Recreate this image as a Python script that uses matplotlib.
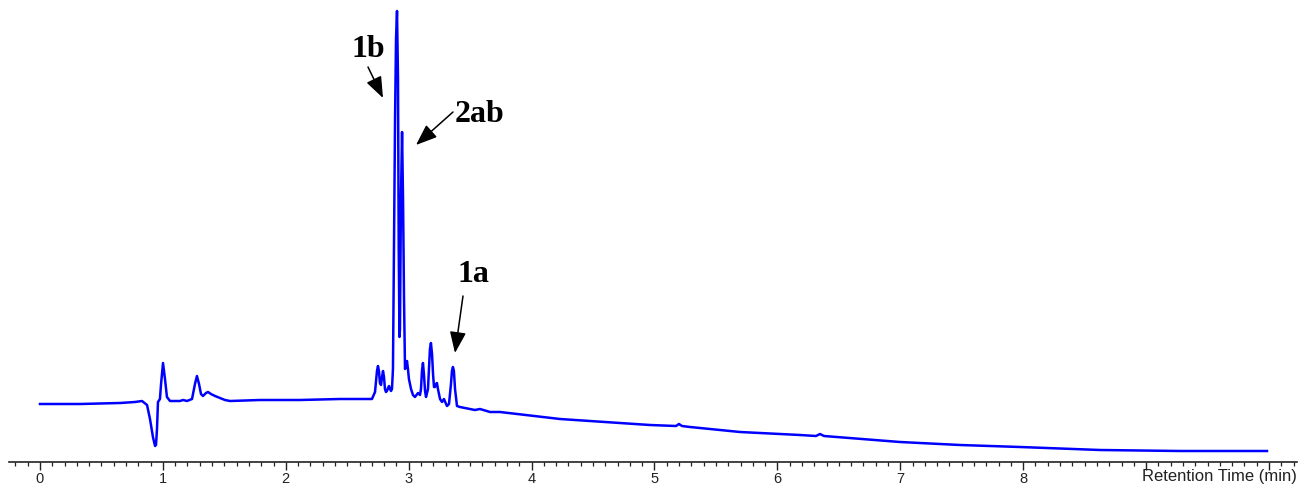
import matplotlib
matplotlib.use("Agg")
import matplotlib.pyplot as plt
from matplotlib.ticker import MultipleLocator, FixedLocator

# Retention time (min) and detector signal (arbitrary units)
rt = [0.000, 0.325, 0.651, 0.773, 0.830, 0.871, 0.895, 0.919, 0.936, 0.944, 0.952, 0.960,
      0.976, 0.985, 1.001, 1.017, 1.033, 1.058, 1.139, 1.164, 1.196, 1.237, 1.261, 1.277,
      1.294, 1.310, 1.326, 1.351, 1.367, 1.391, 1.424, 1.465, 1.505, 1.546, 1.790, 2.116,
      2.441, 2.701, 2.726, 2.742, 2.750, 2.758, 2.766, 2.775, 2.783, 2.791, 2.799, 2.807,
      2.815, 2.823, 2.832, 2.840, 2.848, 2.856, 2.864, 2.872, 2.880, 2.889, 2.897, 2.905,
      2.913, 2.919, 2.925, 2.929, 2.937, 2.946, 2.954, 2.962, 2.970, 2.978, 2.986, 2.994,
      3.002, 3.019, 3.035, 3.051, 3.076, 3.092, 3.100, 3.108, 3.116, 3.124, 3.133, 3.141,
      3.157, 3.165, 3.173, 3.181, 3.190, 3.198, 3.206, 3.214, 3.222, 3.230, 3.238, 3.255,
      3.271, 3.287, 3.304, 3.312, 3.328, 3.344, 3.352, 3.360, 3.368, 3.377, 3.393, 3.417,
      3.458, 3.499, 3.539, 3.580, 3.662, 3.743, 4.231, 4.963, 5.175, 5.199, 5.224, 5.289,
      5.696, 6.184, 6.314, 6.347, 6.379, 6.998, 7.486, 7.974, 8.625, 9.276, 9.984]
signal = [58, 58, 59, 60, 61, 57, 43, 25, 16, 17, 33, 60,
          63, 78, 99, 83, 65, 61, 61, 62, 61, 63, 78, 86,
          78, 68, 66, 69, 70, 68, 66, 64, 62, 61, 62, 62,
          63, 63, 70, 91, 96, 91, 79, 77, 85, 91, 85, 73,
          70, 71, 74, 76, 73, 71, 73, 93, 213, 343, 423, 451,
          383, 213, 125, 133, 263, 330, 263, 163, 93, 95, 101, 93,
          83, 73, 67, 65, 69, 67, 73, 91, 99, 88, 71, 65,
          73, 93, 113, 119, 108, 88, 75, 75, 78, 79, 73, 63,
          60, 63, 58, 56, 58, 78, 91, 95, 91, 73, 56, 55,
          54, 53, 52, 53, 50, 50, 43, 37, 36, 38, 36, 35,
          30, 27, 26, 28, 26, 20, 17, 15, 12, 11, 11]

tick_labels = ["0", "1", "2", "3", "4", "5", "6", "7", "8"]
axis_label = "Retention Time (min)"
peak_names = ["1b", "2ab", "1a"]

W, H = 1299, 485
fig = plt.figure(figsize=(W / 100, H / 100), dpi=100)
ax = fig.add_axes([9 / W, 22 / H, 1288 / W, 463 / H])
ax.set_xlim(-0.2522, 10.228)
ax.set_ylim(0, 463)

ax.plot(rt, signal, color="#0000ff", lw=1.8, solid_joinstyle="round")

for s in ["top", "left", "right"]:
    ax.spines[s].set_visible(False)
ax.spines["bottom"].set_linewidth(1.2)
ax.spines["bottom"].set_color("#222222")
ax.set_yticks([])

ax.xaxis.set_major_locator(FixedLocator(list(range(0, 11))))
ax.xaxis.set_minor_locator(MultipleLocator(0.1))
ax.set_xticklabels(tick_labels + ["", ""])
ax.tick_params(axis="x", which="major", direction="out", length=5.5, width=1.0,
               color="#222222", pad=0.8, labelsize=10.5, labelcolor="#222222")
ax.tick_params(axis="x", which="minor", direction="out", length=3.0, width=0.9,
               color="#222222")
for lab in ax.get_xticklabels():
    lab.set_family(["Liberation Sans", "DejaVu Sans"])

fig.text(1297 / W, 1 - 481 / H, axis_label, ha="right", va="baseline",
         fontsize=12, color="#222222", family=["Liberation Sans", "DejaVu Sans"])


def px2data(px, py):
    return ((px - 40) / 122.9, 463 - py)


label_text_px = [(368.5, 57), (480, 122), (473, 282)]
arrow_tail_px = [(368, 68), (453, 113), (463, 297)]
arrow_tip_px = [(383, 99), (416, 146), (455, 354)]

for name, tpos, tail, tip in zip(peak_names, label_text_px, arrow_tail_px, arrow_tip_px):
    ax.text(*px2data(*tpos), name, ha="center", va="baseline", fontsize=23,
            fontweight="bold", family=["Liberation Serif", "DejaVu Serif"], color="black")
    ax.annotate("", xy=px2data(*tip), xytext=px2data(*tail),
                arrowprops=dict(arrowstyle="-|>,head_length=1.3,head_width=0.5",
                                mutation_scale=10, lw=1.1, color="black",
                                shrinkA=0, shrinkB=0))

fig.savefig("out.png", dpi=100)
